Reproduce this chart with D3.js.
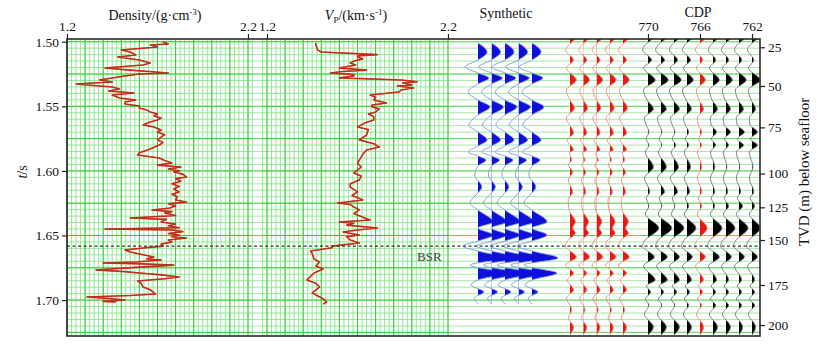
<!DOCTYPE html>
<html>
<head>
<meta charset="utf-8">
<script src="https://cdn.jsdelivr.net/npm/d3@7"></script>
<style>
  body { margin: 0; background: #fff; }
  svg, svg text { font-family: "Liberation Serif", "Times New Roman", "DejaVu Serif", serif; }
</style>
</head>
<body>
<svg id="chart" width="817" height="348"></svg>
<script>
// ---- data ----
const timeTicks = [1.50, 1.55, 1.60, 1.65, 1.70];
const tvdTicks = [25, 50, 75, 100, 125, 150, 175, 200];
const tvdTimes = [1.5043, 1.5343, 1.5663, 1.6020, 1.6282, 1.6535, 1.6883, 1.7193]; // TWT of each depth mark
const densityTicks = [1.2, 2.2];
const vpTicks = [1.2, 2.2];
const cdpTicks = [770, 766, 762];
const cdps = [770, 769, 768, 767, 766, 765, 764, 763, 762];
const wellCdp = 766;
const bsrTime = 1.6582;

// [t (s), density g/cm3]
const densityLog = [
  [1.5000,1.73],[1.5018,1.76],[1.5026,1.66],[1.5041,1.70],[1.5064,1.50],[1.5080,1.55],[1.5103,1.58],
  [1.5118,1.48],[1.5142,1.60],[1.5165,1.66],[1.5180,1.62],[1.5204,1.41],[1.5220,1.55],[1.5242,1.76],
  [1.5250,1.60],[1.5265,1.52],[1.5296,1.38],[1.5312,1.45],[1.5327,1.25],[1.5343,1.38],[1.5350,1.45],
  [1.5366,1.49],[1.5382,1.43],[1.5397,1.57],[1.5413,1.45],[1.5436,1.49],[1.5451,1.58],[1.5467,1.52],
  [1.5482,1.52],[1.5497,1.60],[1.5513,1.60],[1.5528,1.64],[1.5544,1.66],[1.5560,1.70],[1.5575,1.68],
  [1.5590,1.72],[1.5606,1.70],[1.5622,1.66],[1.5644,1.62],[1.5660,1.68],[1.5683,1.72],[1.5700,1.70],
  [1.5720,1.74],[1.5738,1.72],[1.5760,1.70],[1.5780,1.73],[1.5800,1.71],[1.5830,1.66],[1.5860,1.60],
  [1.5877,1.59],[1.5890,1.66],[1.5900,1.71],[1.5920,1.74],[1.5939,1.78],[1.5955,1.70],[1.5970,1.83],
  [1.5985,1.76],[1.6000,1.82],[1.6008,1.79],[1.6025,1.84],[1.6047,1.86],[1.6060,1.80],[1.6080,1.83],
  [1.6100,1.78],[1.6120,1.82],[1.6140,1.79],[1.6163,1.82],[1.6180,1.78],[1.6200,1.81],[1.6225,1.80],
  [1.6241,1.86],[1.6255,1.76],[1.6270,1.80],[1.6287,1.77],[1.6303,1.67],[1.6315,1.78],[1.6326,1.74],
  [1.6345,1.80],[1.6365,1.55],[1.6375,1.75],[1.6396,1.72],[1.6411,1.80],[1.6425,1.76],[1.6440,1.82],
  [1.6450,1.41],[1.6458,1.78],[1.6470,1.84],[1.6485,1.76],[1.6496,1.82],[1.6510,1.78],[1.6520,1.86],
  [1.6535,1.76],[1.6551,1.78],[1.6567,1.72],[1.6582,1.73],[1.6597,1.62],[1.6612,1.52],[1.6628,1.55],
  [1.6643,1.60],[1.6655,1.64],[1.6667,1.68],[1.6680,1.64],[1.6690,1.72],[1.6705,1.58],[1.6713,1.40],
  [1.6720,1.62],[1.6729,1.79],[1.6745,1.60],[1.6767,1.36],[1.6780,1.52],[1.6790,1.60],[1.6805,1.72],
  [1.6821,1.82],[1.6835,1.74],[1.6852,1.59],[1.6870,1.61],[1.6899,1.62],[1.6920,1.66],[1.6953,1.69],
  [1.6965,1.55],[1.6976,1.31],[1.6990,1.45],[1.6999,1.52],[1.7010,1.40],[1.7015,1.47]
];

// [t (s), Vp km/s]
const vpLog = [
  [1.5010,1.47],[1.5026,1.47],[1.5064,1.48],[1.5080,1.50],[1.5100,1.81],[1.5110,1.70],[1.5118,1.70],
  [1.5133,1.73],[1.5150,1.68],[1.5165,1.66],[1.5180,1.69],[1.5204,1.60],[1.5220,1.75],[1.5230,1.62],
  [1.5242,1.55],[1.5255,1.68],[1.5265,1.68],[1.5280,1.60],[1.5296,1.94],[1.5310,2.03],[1.5320,1.95],
  [1.5335,2.00],[1.5343,1.92],[1.5358,2.01],[1.5374,1.94],[1.5389,1.93],[1.5413,1.77],[1.5430,1.80],
  [1.5451,1.79],[1.5474,1.86],[1.5490,1.78],[1.5505,1.78],[1.5520,1.82],[1.5544,1.80],[1.5560,1.76],
  [1.5580,1.79],[1.5606,1.79],[1.5630,1.74],[1.5660,1.70],[1.5680,1.76],[1.5722,1.75],[1.5760,1.71],
  [1.5790,1.79],[1.5815,1.82],[1.5838,1.75],[1.5870,1.73],[1.5916,1.71],[1.5939,1.70],[1.5970,1.72],
  [1.6016,1.68],[1.6040,1.72],[1.6070,1.71],[1.6100,1.66],[1.6125,1.66],[1.6163,1.70],[1.6190,1.67],
  [1.6225,1.73],[1.6249,1.59],[1.6260,1.66],[1.6280,1.68],[1.6300,1.71],[1.6330,1.68],[1.6365,1.74],
  [1.6380,1.77],[1.6395,1.60],[1.6405,1.68],[1.6420,1.64],[1.6442,1.81],[1.6458,1.70],[1.6473,1.62],
  [1.6481,1.65],[1.6496,1.71],[1.6510,1.64],[1.6535,1.66],[1.6558,1.71],[1.6582,1.56],[1.6595,1.56],
  [1.6620,1.44],[1.6640,1.45],[1.6682,1.46],[1.6705,1.49],[1.6736,1.47],[1.6760,1.51],[1.6790,1.46],
  [1.6845,1.42],[1.6870,1.47],[1.6899,1.49],[1.6945,1.45],[1.6990,1.51],[1.7015,1.53],[1.7030,1.51]
];

// synthetic seismogram, [t, normalised amplitude]
const synthetic = [
  [1.5010,0],[1.5080,0.35],[1.5142,0],[1.5196,-0.5],[1.5242,0],[1.5281,0.42],[1.5327,0],[1.5389,-0.38],
  [1.5451,0],[1.5505,0.46],[1.5567,0],[1.5645,-0.35],[1.5699,0],[1.5761,0.35],[1.5807,0],[1.5854,-0.38],
  [1.5885,0],[1.5916,0.31],[1.5962,0],[1.6032,-0.12],[1.6125,0.15],[1.6187,-0.08],[1.6249,-0.31],
  [1.6303,0],[1.6395,0.58],[1.6442,0],[1.6496,0.58],[1.6543,0],[1.6582,-0.58],[1.6620,0],[1.6675,1.0],
  [1.6729,-0.31],[1.6791,0.96],[1.6845,0],[1.6883,-0.27],[1.6937,0.23],[1.6984,-0.15],[1.7030,0]
];

// seismic trace at the well, [t, normalised amplitude]
const wellTrace = [
  [1.4979,0.6],[1.5018,0],[1.5064,-0.5],[1.5142,0.4],[1.5204,-0.4],[1.5296,0.7],[1.5374,-0.4],
  [1.5451,0],[1.5513,0.5],[1.5591,-0.4],[1.5707,0.4],[1.5761,-0.3],[1.5838,0.4],[1.5862,-0.1],
  [1.5916,0.2],[1.5954,-0.2],[1.6008,0.3],[1.6070,-0.2],[1.6163,0.3],[1.6225,-0.2],[1.6303,-0.1],
  [1.6395,0.6],[1.6442,0.3],[1.6481,0.6],[1.6535,-0.2],[1.6582,-0.5],[1.6667,0.7],[1.6729,-0.5],
  [1.6791,0.4],[1.6845,-0.3],[1.6922,0.4],[1.6984,-0.4],[1.7077,0.2],[1.7139,-0.2],[1.7208,0.4],[1.7270,0]
];

// CDP gather: event times and amplitude per CDP (770 ... 762)
const cdpTimes = [1.4979,1.5064,1.5142,1.5204,1.5296,1.5374,1.5451,1.5521,1.5591,1.5645,1.5699,1.5753,
  1.5800,1.5854,1.5970,1.6055,1.6163,1.6210,1.6272,1.6334,1.6442,1.6543,1.6582,1.6667,1.6736,1.6845,
  1.6891,1.6937,1.6992,1.7038,1.7108,1.7208,1.7270];
const cdpAmps = [
  [.5,.5,.5,.5,.6,.5,.5,.6,.6],
  [-.6,-.6,-.5,-.5,-.5,-.5,-.5,-.5,-.5],
  [.4,.4,.4,.4,.3,.3,.3,.3,.2],
  [-.5,-.5,-.4,-.4,-.4,-.4,-.4,-.4,-.4],
  [.8,.8,.8,.7,.6,.7,.7,.8,.9],
  [-.5,-.5,-.5,-.5,-.4,-.4,-.4,-.4,-.4],
  [-.1,-.1,-.1,-.1,-.1,-.1,-.1,-.1,-.1],
  [.6,.6,.6,.5,.4,.5,.5,.5,.4],
  [-.4,-.4,-.4,-.4,-.3,-.3,-.3,-.3,-.3],
  [-.2,-.2,-.2,-.2,-.2,-.2,-.2,-.2,-.2],
  [.1,.1,.1,.2,.2,.4,.5,.6,.6],
  [-.2,-.2,-.2,-.2,-.2,-.2,-.2,-.2,-.2],
  [.1,.1,.2,.2,.2,.3,.3,.5,.6],
  [-.3,-.3,-.3,-.3,-.3,-.3,-.3,-.3,-.3],
  [.6,.6,.5,.4,.2,.2,.1,.1,.1],
  [-.4,-.4,-.4,-.3,-.3,-.3,-.3,-.3,-.3],
  [.2,.4,.4,.3,.2,.2,.2,.2,.2],
  [-.2,-.2,-.2,-.2,-.2,-.2,-.2,-.2,-.2],
  [.1,.1,.1,.2,.2,.2,.3,.4,.3],
  [-.3,-.3,-.3,-.3,-.3,-.3,-.3,-.3,-.3],
  [1.2,1.2,1.1,1.0,.8,1.0,1.0,1.0,.9],
  [-.4,-.4,-.4,-.4,-.4,-.4,-.4,-.4,-.4],
  [-.6,-.6,-.6,-.6,-.6,-.6,-.6,-.6,-.6],
  [.7,.7,.6,.6,.6,.7,.6,.6,.6],
  [-.5,-.5,-.5,-.5,-.5,-.5,-.5,-.5,-.5],
  [.8,.7,.6,.5,.4,.4,.3,.3,.3],
  [-.2,-.2,-.2,-.2,-.2,-.2,-.2,-.2,-.2],
  [.3,.3,.3,.3,.3,.3,.3,.3,.3],
  [-.3,-.3,-.3,-.3,-.3,-.3,-.3,-.3,-.3],
  [.1,.1,.1,.2,.2,.3,.3,.3,.3],
  [-.4,-.4,-.4,-.4,-.4,-.4,-.4,-.4,-.4],
  [.6,.6,.6,.5,.4,.5,.5,.4,.4],
  [0,0,0,0,0,0,0,0,0]
];

// ---- layout ----
const frame = { l: 67, r: 760, t: 39, b: 336 };
const serif = '"Liberation Serif", "Times New Roman", "DejaVu Serif", serif';
const svg = d3.select('#chart').attr('font-family', serif);

const y = d3.scaleLinear().domain([1.4979, 1.7278]).range([frame.t, frame.b]);
const xDen = d3.scaleLinear().domain([1.2, 2.2]).range([67, 248]);
const xVp = d3.scaleLinear().domain([1.2, 2.2]).range([267, 448]);
const xCdp = d3.scaleLinear().domain([770, 762]).range([648, 752]);
const synX = d3.scalePoint().domain(d3.range(5)).range([478, 532]);
const tieX = d3.scalePoint().domain(d3.range(5)).range([570, 623]);
const ampSyn = d3.scaleLinear().domain([0, 1]).range([0, 26]);
const ampSeis = d3.scaleLinear().domain([0, 1]).range([0, 9]);

//Grid
const grid = svg.append('g').attr('class', 'grid');
const hMinor = d3.range(1.500, 1.7276, 0.005);
const hMajor = d3.range(1.500, 1.7276, 0.025);

// faint horizontals across the seismic part
grid.selectAll('.hs').data(hMinor).enter().append('line')
  .attr('x1', frame.l).attr('x2', frame.r)
  .attr('y1', d => y(d)).attr('y2', d => y(d))
  .style('stroke', '#a6e8a6').style('stroke-width', 1);
grid.selectAll('.hsm').data(hMajor).enter().append('line')
  .attr('x1', frame.l).attr('x2', frame.r)
  .attr('y1', d => y(d)).attr('y2', d => y(d))
  .style('stroke', '#5fd85f').style('stroke-width', 1);

function logGrid(scale, lo, hi) {
  const g = grid.append('g');
  const x0 = scale(lo), x1 = scale(hi);
  g.append('rect').attr('x', x0).attr('y', frame.t).attr('width', x1 - x0).attr('height', frame.b - frame.t)
    .style('fill', '#fbfffb');
  g.selectAll('.vm').data(d3.range(lo, hi + 0.001, 0.025)).enter().append('line')
    .attr('x1', d => scale(d)).attr('x2', d => scale(d)).attr('y1', frame.t).attr('y2', frame.b)
    .style('stroke', '#8fe48f').style('stroke-width', 0.9);
  g.selectAll('.hm').data(hMinor).enter().append('line')
    .attr('x1', x0).attr('x2', x1).attr('y1', d => y(d)).attr('y2', d => y(d))
    .style('stroke', '#8fe48f').style('stroke-width', 0.9);
  g.selectAll('.vM').data(d3.range(1.2, 2.21, 0.1)).enter().append('line')
    .attr('x1', d => scale(d)).attr('x2', d => scale(d)).attr('y1', frame.t).attr('y2', frame.b)
    .style('stroke', '#33cc33').style('stroke-width', 1);
  g.selectAll('.hM').data(hMajor).enter().append('line')
    .attr('x1', x0).attr('x2', x1).attr('y1', d => y(d)).attr('y2', d => y(d))
    .style('stroke', '#33cc33').style('stroke-width', 1);
}
logGrid(xDen, 1.2, 2.225);
logGrid(xVp, 1.175, 2.2);

//Logs
const logLine = (sx) => d3.line().x(d => sx(d[1])).y(d => y(d[0]));
[[densityLog, xDen], [vpLog, xVp]].forEach(([data, sx]) => {
  svg.append('path').datum(data).attr('d', logLine(sx))
    .style('fill', 'none').style('stroke', '#e3221b').style('stroke-width', 1.6).style('stroke-linejoin', 'round');
  svg.append('path').datum(data).attr('d', logLine(sx))
    .style('fill', 'none').style('stroke', '#9a3a20').style('stroke-width', 0.6);
});

//Wiggle traces
const defs = svg.append('defs');
let clipId = 0;
function wiggle(pts, base, amp, lineColor, fillColor) {
  const id = 'clip' + (clipId++);
  defs.append('clipPath').attr('id', id).append('rect')
    .attr('x', base).attr('y', frame.t).attr('width', 40).attr('height', frame.b - frame.t);
  const area = d3.area().curve(d3.curveMonotoneY)
    .y(d => y(d[0])).x0(base).x1(d => base + amp(d[1]));
  const line = d3.line().curve(d3.curveMonotoneY)
    .y(d => y(d[0])).x(d => base + amp(d[1]));
  svg.append('path').datum(pts).attr('d', area).attr('clip-path', `url(#${id})`).style('fill', fillColor);
  svg.append('path').datum(pts).attr('d', line)
    .style('fill', 'none').style('stroke', lineColor).style('stroke-width', 0.9);
}

synX.domain().forEach(i => wiggle(synthetic, synX(i), ampSyn, '#7f98e0', '#1010d8'));
tieX.domain().forEach(i => wiggle(wellTrace, tieX(i), ampSeis, '#ee8a80', '#e41a14'));
cdps.forEach((c, j) => {
  const pts = cdpTimes.map((t, k) => [t, cdpAmps[k][j]]);
  const red = c === wellCdp;
  wiggle(pts, xCdp(c), ampSeis, red ? '#ee8a80' : '#777', red ? '#e41a14' : '#000');
});

//BSR
svg.append('line')
  .attr('x1', frame.l).attr('x2', frame.r).attr('y1', y(bsrTime)).attr('y2', y(bsrTime))
  .style('stroke', '#333').style('stroke-width', 1.3).style('stroke-dasharray', '3,2.5');
svg.append('text').attr('x', 417).attr('y', y(bsrTime) + 15).attr('font-family', serif)
  .style('font-size', '13px').style('fill', '#444').text('BSR');

//Frame
svg.append('rect')
  .attr('x', frame.l).attr('y', frame.t).attr('width', frame.r - frame.l).attr('height', frame.b - frame.t)
  .style('fill', 'none').style('stroke', '#2a2a2a').style('stroke-width', 1.6);

//Axes
function styleAxis(g) {
  g.select('.domain').remove();
  g.attr('font-family', serif).attr('font-size', null);
  g.selectAll('text').attr('font-family', serif).style('font-size', '13.5px').style('fill', '#111');
  g.selectAll('line').style('stroke', '#222').style('stroke-width', 1.2);
}
svg.append('g').attr('transform', `translate(${frame.l},0)`)
  .call(d3.axisLeft(y).tickValues(timeTicks).tickFormat(d3.format('.2f')).tickSize(5).tickPadding(3))
  .call(styleAxis);
svg.append('g').attr('transform', `translate(${frame.r},0)`)
  .call(d3.axisRight(y).tickValues(tvdTimes).tickFormat((d, i) => tvdTicks[i]).tickSize(5).tickPadding(3))
  .call(styleAxis);
svg.append('g').attr('transform', `translate(0,${frame.t})`)
  .call(d3.axisTop(xDen).tickValues(densityTicks).tickFormat(d3.format('.1f')).tickSize(5).tickPadding(3))
  .call(styleAxis);
svg.append('g').attr('transform', `translate(0,${frame.t})`)
  .call(d3.axisTop(xVp).tickValues(vpTicks).tickFormat(d3.format('.1f')).tickSize(5).tickPadding(3))
  .call(styleAxis);
svg.append('g').attr('transform', `translate(0,${frame.t})`)
  .call(d3.axisTop(xCdp).tickValues(cdpTicks).tickFormat(d3.format('d')).tickSize(5).tickPadding(3))
  .call(styleAxis);

//Titles
const title = (x, yy) => svg.append('text').attr('x', x).attr('y', yy).attr('font-family', serif)
  .attr('text-anchor', 'middle').style('font-size', '14px').style('fill', '#111');

const tD = title(155, 20);
tD.append('tspan').text('Density/(g·cm');
tD.append('tspan').attr('dy', -5).style('font-size', '9px').text('-3');
tD.append('tspan').attr('dy', 5).text(')');

const tV = title(356, 20);
tV.append('tspan').style('font-style', 'italic').text('V');
tV.append('tspan').attr('dy', 3).style('font-size', '9px').text('P');
tV.append('tspan').attr('dy', -3).text('/(km·s');
tV.append('tspan').attr('dy', -5).style('font-size', '9px').text('-1');
tV.append('tspan').attr('dy', 5).text(')');

title(506, 18).text('Synthetic');
title(698, 17).text('CDP');

const tT = svg.append('text').attr('transform', 'translate(27,172) rotate(-90)').attr('font-family', serif)
  .attr('text-anchor', 'middle').style('font-size', '14px').style('fill', '#111');
tT.append('tspan').style('font-style', 'italic').text('t');
tT.append('tspan').text('/s');

svg.append('text').attr('transform', 'translate(809,172) rotate(-90)').attr('font-family', serif)
  .attr('text-anchor', 'middle').style('font-size', '15px').style('fill', '#111')
  .text('TVD (m) below seafloor');
</script>
</body>
</html>
